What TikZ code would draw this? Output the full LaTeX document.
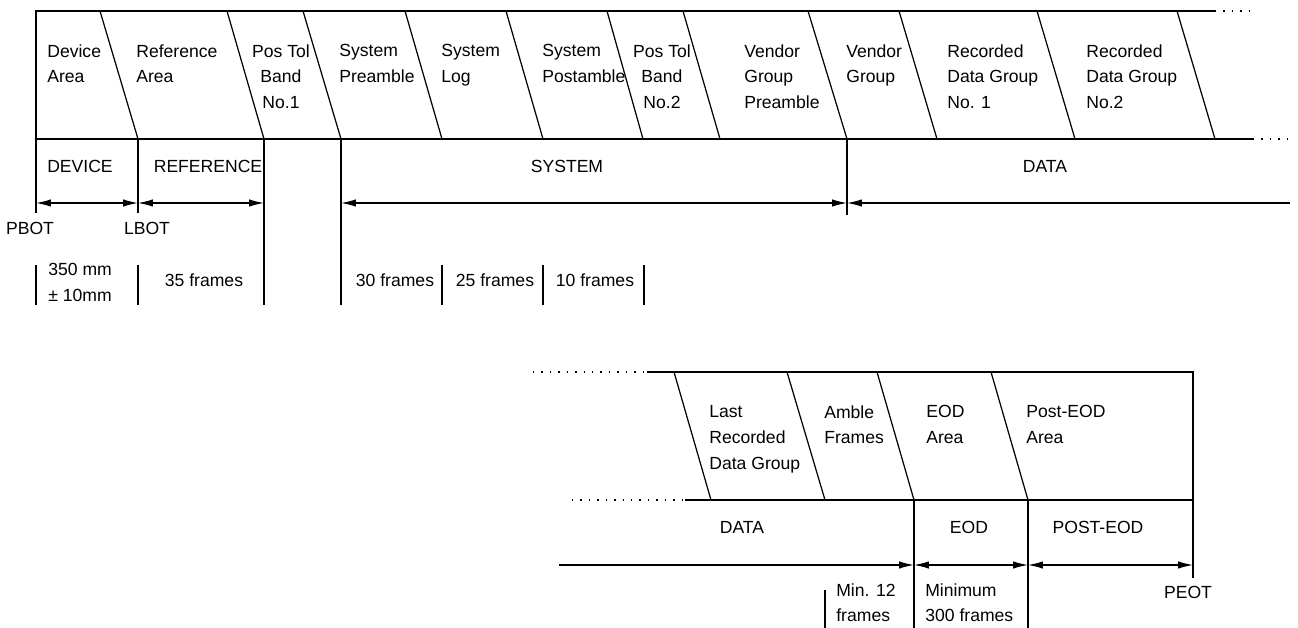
\documentclass[tikz,border=0pt]{standalone}
\usepackage{fontspec}
\setmainfont{Liberation Sans}
\usepackage{tikz}
\usetikzlibrary{arrows.meta,positioning,calc}

\begin{document}
\begin{tikzpicture}[x=0.02cm,y=-0.02cm,
    font=\fontsize{10}{14.7}\selectfont,
    area/.style={anchor=north west,align=left,inner sep=0pt},
    areac/.style={anchor=north,align=center,inner sep=0pt},
    band/.style={line width=1pt},
    edge/.style={line width=0.7pt},
    dots/.style={line width=0.8pt,dash pattern=on 0.8pt off 4pt},
    >={Latex[length=8.5pt,width=4.2pt]}]
  \useasboundingbox (0,0) rectangle (1298,628);

  % upper tape layout
  \draw[band] (36,139) -- (36,11) -- (1215,11);
  \draw[dots] (1215,11) -- (1250,11);
  \draw[band] (36,139) -- (1253,139);
  \draw[dots] (1253,139) -- (1292,139);
  \foreach \t/\b in {100/138,227/264,303/341,405/442,506/543,607/643,
      683/720,808/847,899/937,1037/1075,1177/1215}
    \draw[edge] (\t,11) -- (\b,139);

  \node[area] (dev) at (47,44) {Device\\Area};
  \node[area] (refa) at (136,44) {Reference\\Area};
  \node[areac] (pt1) at (281,44) {Pos Tol\\Band\\No.1};
  \node[area] (spre) at (339,44) {System\\Preamble};
  \node[area] (slog) at (441,44) {System\\Log};
  \node[area] (spost) at (542,44) {System\\Postamble};
  \node[areac] (pt2) at (662,44) {Pos Tol\\Band\\No.2};
  \node[area] (vgp) at (744,44) {Vendor\\Group\\Preamble};
  \node[area] (vg) at (846,44) {Vendor\\Group};
  \node[area] (rdg1) at (947,44) {Recorded\\Data Group\\No. 1};
  \node[area] (rdg2) at (1086,44) {Recorded\\Data Group\\No.2};

  \node (devs) at (80,166) {DEVICE};
  \node (refs) at (208,166) {REFERENCE};
  \node (syss) at (567,166) {SYSTEM};
  \node (dats) at (1045,166) {DATA};

  \coordinate (pbot) at (36,203);
  \coordinate (lbot) at (138,203);
  \coordinate (refe) at (264,203);
  \coordinate (syst) at (341,203);
  \coordinate (datb) at (847,203);
  \coordinate (date) at (1290,203);
  \draw[edge] (36,139) -- (36,213);
  \draw[edge] (138,139) -- (138,213);
  \draw[edge] (264,139) -- (264,305);
  \draw[edge] (341,139) -- (341,305);
  \draw[edge] (847,139) -- (847,215);
  \draw[edge,<->] (pbot) -- (lbot);
  \draw[edge,<->] (lbot) -- (refe);
  \draw[edge,<->] (syst) -- (datb);
  \draw[edge,<-] (datb) -- (date);
  \node (pbotl) at (30,228) {PBOT};
  \node (lbotl) at (147,228) {LBOT};

  \foreach \x in {36,138,442,543,644}
    \draw[edge] (\x,265) -- (\x,305);
  \node[area] (dev350) at (48,263) {350 mm\\± 10mm};
  \node (ref35) at (204,280) {35 frames};
  \node (spre30) at (395,280) {30 frames};
  \node (slog25) at (495,280) {25 frames};
  \node (spost10) at (595,280) {10 frames};

  % lower tape layout
  \draw[dots] (533,372) -- (647,372);
  \draw[band] (647,372) -- (1193,372) -- (1193,578);
  \draw[dots] (572,500) -- (685,500);
  \draw[band] (685,500) -- (1193,500);
  \foreach \t/\b in {674/711,787/825,877/914,991/1028}
    \draw[edge] (\t,372) -- (\b,500);

  \node[area] (lrdg) at (709,405) {Last\\Recorded\\Data Group};
  \node[area] (amb) at (824,405) {Amble\\Frames};
  \node[area] (eoda) at (926,405) {EOD\\Area};
  \node[area] (peoda) at (1026,405) {Post-EOD\\Area};

  \node (datl) at (742,527) {DATA};
  \node (eods) at (969,527) {EOD};
  \node (peods) at (1098,527) {POST-EOD};

  \coordinate (datl0) at (559,565);
  \coordinate (eodb) at (914,565);
  \coordinate (peodb) at (1028,565);
  \coordinate (peot) at (1193,565);
  \draw[edge] (914,500) -- (914,628);
  \draw[edge] (1028,500) -- (1028,628);
  \draw[edge,->] (datl0) -- (eodb);
  \draw[edge,<->] (eodb) -- (peodb);
  \draw[edge,<->] (peodb) -- (peot);
  \node (peotl) at (1188,592) {PEOT};

  \draw[edge] (825,590) -- (825,628);
  \node[area] (amb12) at (836,583) {Min. 12\\frames};
  \node[area] (eod300) at (925,583) {Minimum\\300 frames};
\end{tikzpicture}
\end{document}
